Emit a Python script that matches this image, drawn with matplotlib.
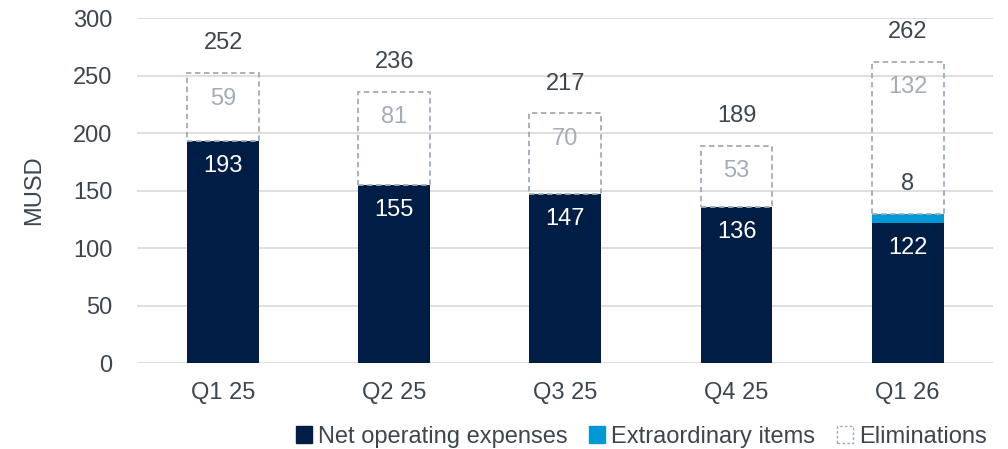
import numpy as np
import matplotlib.pyplot as plt
from matplotlib.patches import Patch

quarters = ["Q1 25", "Q2 25", "Q3 25", "Q4 25", "Q1 26"]
net_opex = [193, 155, 147, 136, 122]
extraordinary = [0, 0, 0, 0, 8]
eliminations = [59, 81, 70, 53, 132]
totals = [252, 236, 217, 189, 262]

navy = "#001e45"
cyan = "#0099d6"
grey = "#a3adb7"
text_col = "#3c4650"
fs = 17

plt.rcParams["font.family"] = ["Liberation Sans", "DejaVu Sans"]

fig = plt.figure(figsize=(10.08, 4.49), dpi=100)
ax = fig.add_axes([0.1364, 0.1915, 0.849, 0.7684])

x = np.arange(len(quarters))
w = 0.42
net = np.array(net_opex)
extra = np.array(extraordinary)
elim = np.array(eliminations)

ax.bar(x, net, w, color=navy, zorder=3)
ax.bar(x, extra, w, bottom=net, color=cyan, zorder=3)
ax.bar(x, elim, w, bottom=net + extra, facecolor="none", edgecolor=grey,
       linestyle=(0, (3, 2)), linewidth=1.3, zorder=3)

for i in range(len(quarters)):
    ax.text(x[i], net[i] - 22, str(net[i]), ha="center", va="center",
            color="white", fontsize=fs, zorder=4)
    if extra[i] > 0:
        ax.text(x[i], net[i] + extra[i] + 26, str(extra[i]), ha="center",
                va="center", color=text_col, fontsize=fs, zorder=4)
    top = net[i] + extra[i] + elim[i]
    ax.text(x[i], top - 22, str(elim[i]), ha="center", va="center",
            color=grey, fontsize=fs, zorder=4)
    ax.text(x[i], totals[i] + 26, str(totals[i]), ha="center", va="center",
            color=text_col, fontsize=fs, zorder=4)

ax.set_ylim(0, 300)
ax.set_xlim(-0.5, len(quarters) - 0.5)
ax.set_yticks(range(0, 301, 50))
ax.set_xticks(x)
ax.set_xticklabels(quarters)
ax.tick_params(axis="both", length=0, labelsize=fs, labelcolor=text_col)
ax.tick_params(axis="x", pad=14)
ax.tick_params(axis="y", pad=18)
ax.grid(axis="y", color="#d9d9d9", linewidth=1.2, zorder=0)
for s in ax.spines.values():
    s.set_visible(False)
ax.set_ylabel("MUSD", fontsize=fs, color=text_col, labelpad=20)

handles = [
    Patch(facecolor=navy, edgecolor=navy),
    Patch(facecolor=cyan, edgecolor=cyan),
    Patch(facecolor="none", edgecolor=grey, linestyle=(0, (2, 1.5))),
]
fig.legend(handles, ["Net operating expenses", "Extraordinary items", "Eliminations"],
           loc="lower right", bbox_to_anchor=(1.0, -0.045), ncol=3, frameon=False,
           fontsize=fs, labelcolor=text_col, handlelength=0.7, handleheight=0.7,
           handletextpad=0.25, columnspacing=0.9)

fig.savefig("out.png", dpi=100)
